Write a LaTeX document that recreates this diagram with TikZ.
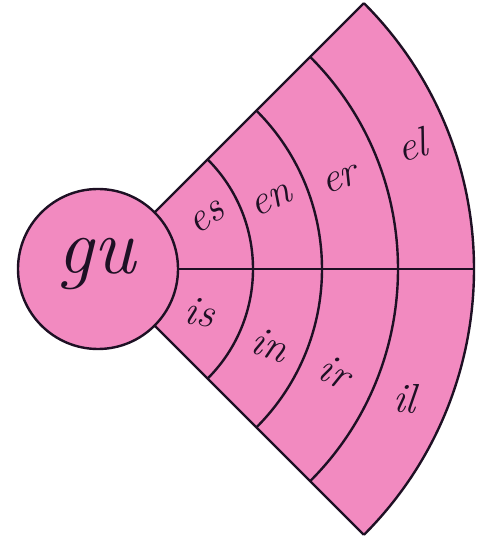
\documentclass[tikz,border=0pt]{standalone}
\usepackage{xcolor}
\usepackage{tikz}
\definecolor{gupink}{HTML}{F28AC0}
\definecolor{guink}{HTML}{1E1024}

\tikzset{
  syl/.style={text=guink,inner sep=0pt,font=\fontsize{42}{44}\selectfont\itshape},
  ring/.style={guink,line width=2.4pt}
}

\begin{document}
\begin{tikzpicture}[x=1pt,y=1pt]
  \useasboundingbox[fill=white] (0,0) rectangle (486,544);
  \coordinate (c) at (98,275);
  \fill[gupink] (c) -- ++(45:376) arc[start angle=45,end angle=-45,radius=376] -- cycle;
  \draw[ring] ([shift={(c)}]45:80) -- ([shift={(c)}]45:376);
  \draw[ring] ([shift={(c)}]-45:80) -- ([shift={(c)}]-45:376);
  \draw[ring] ([shift={(c)}]0:80) -- ([shift={(c)}]0:376);
  \foreach \r in {155,224,300,376}
    \draw[ring] ([shift={(c)}]45:\r) arc[start angle=45,end angle=-45,radius=\r];
  \filldraw[ring,fill=gupink] (c) circle[radius=80];
  \node[syl,font=\fontsize{80}{84}\selectfont\itshape] (gu) at (96,280) {gu};
  \node[syl,rotate=35] (es) at (207,326) {es};
  \node[syl,rotate=25] (en) at (272,344) {en};
  \node[syl,rotate=20] (er) at (340,364) {er};
  \node[syl,rotate=15] (el) at (412,399) {el};
  \node[syl,rotate=-12] (is) at (200,232) {is};
  \node[syl,rotate=-20] (in) at (270,199) {in};
  \node[syl,rotate=-25] (ir) at (335,172) {ir};
  \node[syl,rotate=-5] (il) at (405,146) {il};
\end{tikzpicture}
\end{document}
